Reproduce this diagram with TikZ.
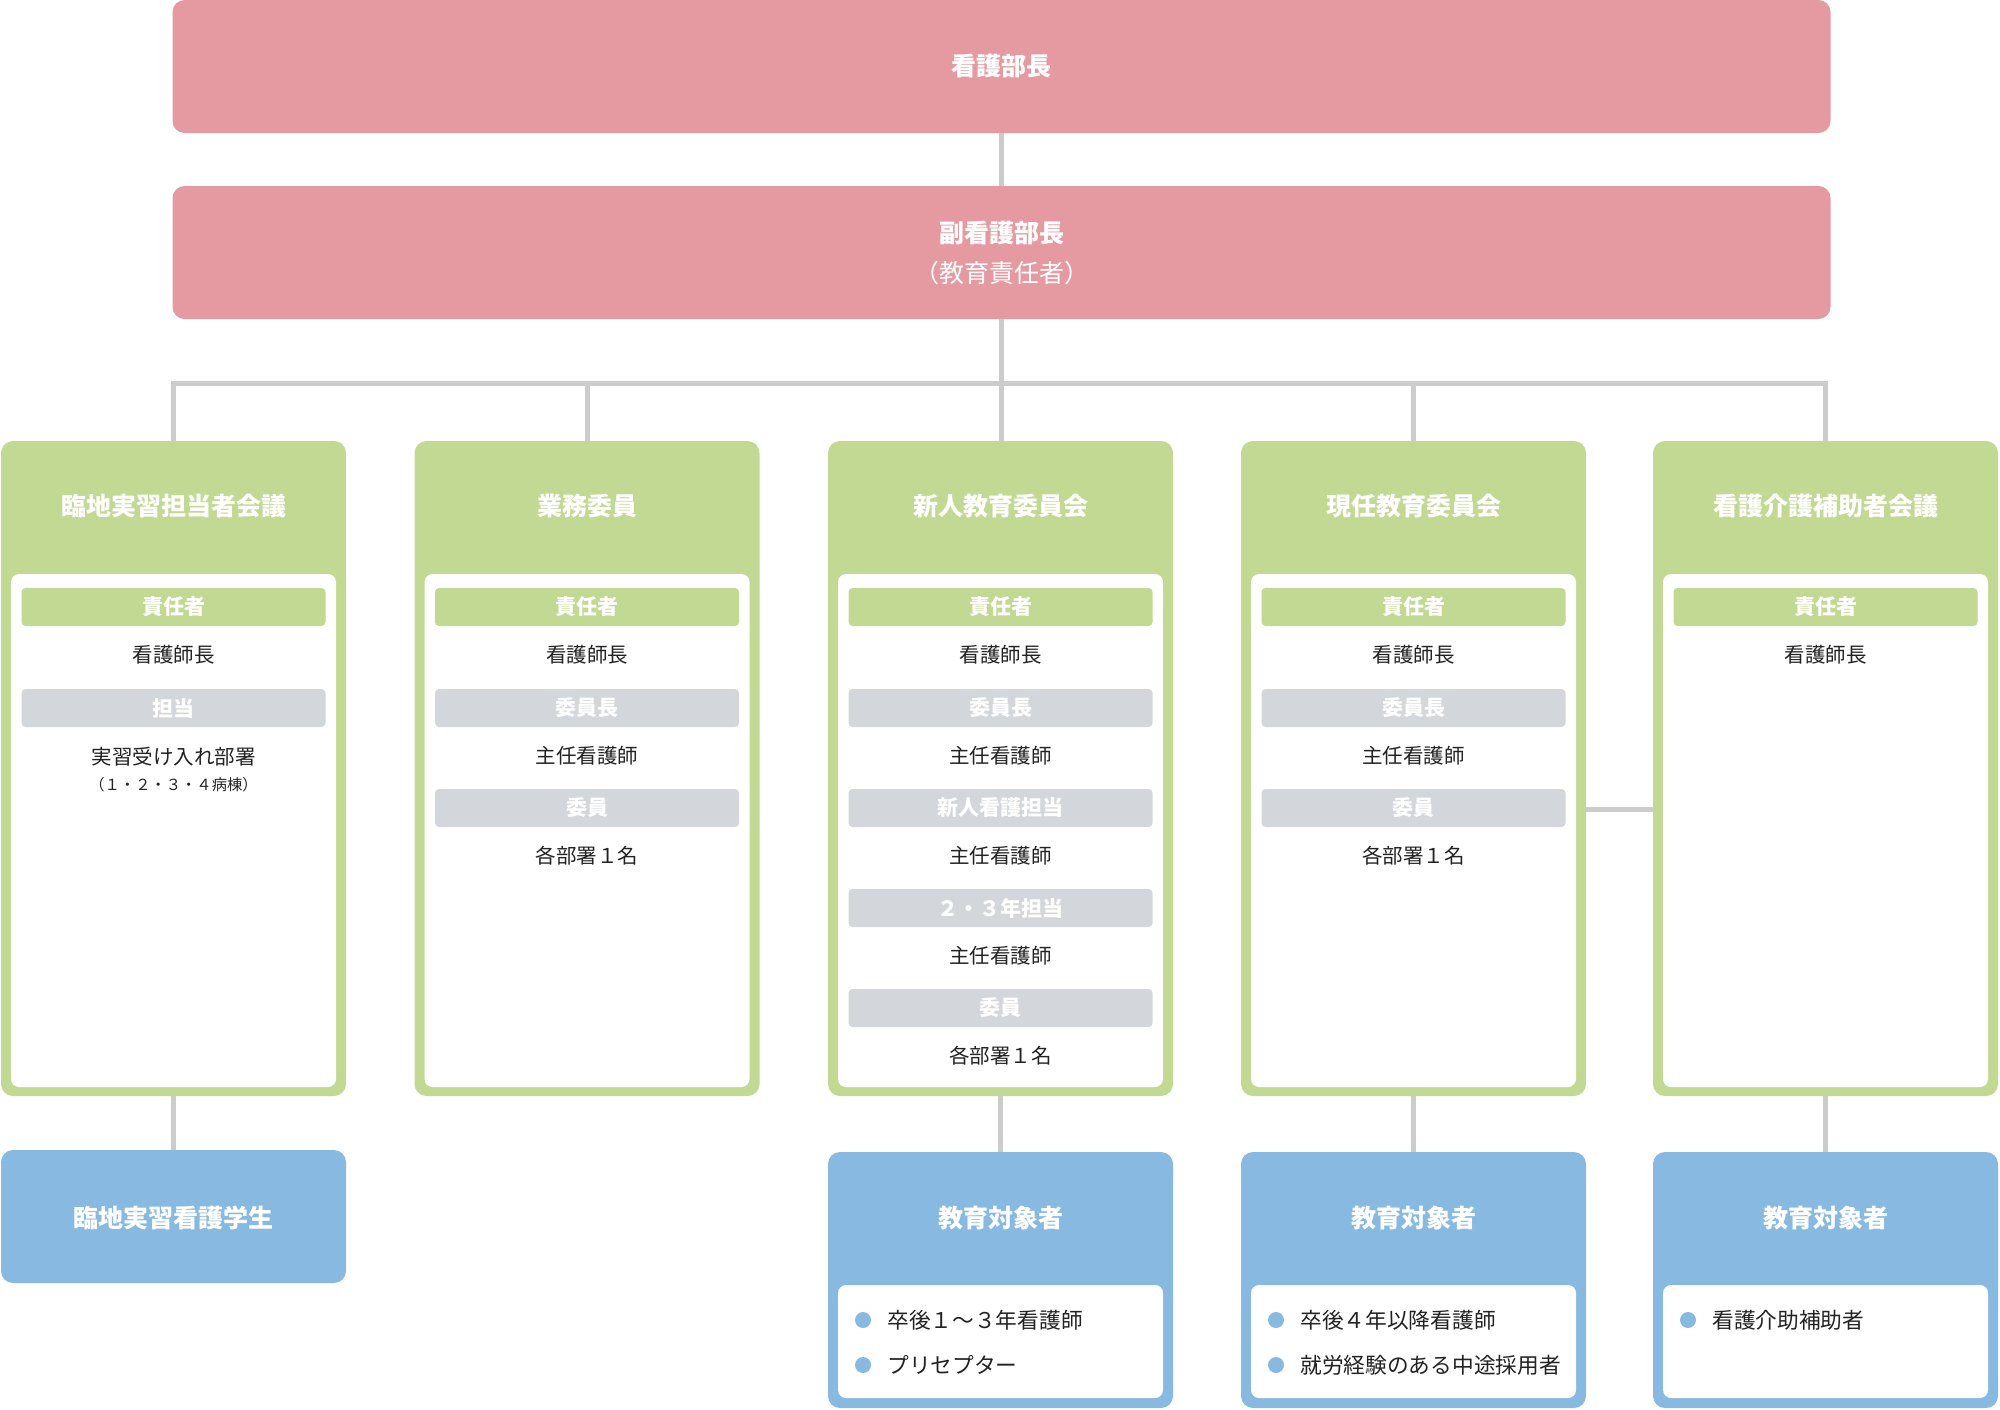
\documentclass[tikz,border=0pt]{standalone}
\usepackage{fontspec}
\setmainfont{Noto Sans CJK JP}
\usepackage{tikz}
\usetikzlibrary{positioning}
\definecolor{rosa}{HTML}{E59AA2}
\definecolor{verde}{HTML}{C1D992}
\definecolor{azul}{HTML}{87B9E1}
\definecolor{gris}{HTML}{D3D7DB}
\definecolor{linea}{HTML}{CCCCCC}
\definecolor{tinta}{HTML}{222222}
\tikzset{
    jefe/.style={rectangle, rounded corners=12pt, fill=rosa, text=white, minimum width=1658pt, minimum height=133pt, align=center, inner sep=0pt},
    comite/.style={rectangle, rounded corners=12pt, fill=verde, minimum width=345pt, minimum height=655pt, inner sep=0pt},
    meta/.style={rectangle, rounded corners=12pt, fill=azul, minimum width=345pt, minimum height=256pt, inner sep=0pt},
    panel/.style={rectangle, rounded corners=8pt, fill=white, minimum width=325pt, minimum height=513pt, inner sep=0pt},
    rol/.style={rectangle, rounded corners=4pt, fill=verde, text=white, font=\fontsize{21}{24}\selectfont\bfseries, minimum width=304pt, minimum height=38pt, inner sep=0pt},
    cargo/.style={rol, fill=gris},
    nombre/.style={text=tinta, font=\fontsize{20.5}{26}\selectfont, align=center, inner sep=0pt},
    lista/.style={nombre, font=\fontsize{21.7}{26}\selectfont},
    titulo/.style={text=white, font=\fontsize{25}{30}\selectfont\bfseries, inner sep=0pt},
    punto/.style={circle, fill=azul, minimum size=16pt, inner sep=0pt},
    conn/.style={-, linea, line width=5pt},
}
\begin{document}
\begin{tikzpicture}[x=1pt, y=-1pt]
    \useasboundingbox (0,0) rectangle (2000,1409);

    \node[jefe, font=\fontsize{25}{30}\selectfont\bfseries] (dir) at (1001.5,66.5) {看護部長};
    \node[jefe, font=\fontsize{25}{40}\selectfont] (vice) at (1001.5,252.5) {\textbf{副看護部長}\\（教育責任者）};
    \coordinate (bus) at (0,383);

    \node[comite] (c1) at (173.5,768.5) {};
    \node[comite] (c2) at (587,768.5) {};
    \node[comite] (c3) at (1000.5,768.5) {};
    \node[comite] (c4) at (1413.5,768.5) {};
    \node[comite] (c5) at (1825.5,768.5) {};

    \node[titulo] (c1t) at (173.5,506) {臨地実習担当者会議};
    \node[titulo] (c2t) at (587,506) {業務委員};
    \node[titulo] (c3t) at (1000.5,506) {新人教育委員会};
    \node[titulo] (c4t) at (1413.5,506) {現任教育委員会};
    \node[titulo] (c5t) at (1825.5,506) {看護介護補助者会議};

    \node[panel] (c1p) at (173.5,830.5) {};
    \node[panel] (c2p) at (587,830.5) {};
    \node[panel] (c3p) at (1000.5,830.5) {};
    \node[panel] (c4p) at (1413.5,830.5) {};
    \node[panel] (c5p) at (1825.5,830.5) {};

    \node[rol] (c1a) at (173.5,607) {責任者};
    \node[nombre] (c1an) at (173.5,655) {看護師長};
    \node[cargo] (c1b) at (173.5,708) {担当};
    \node[nombre] (c1bn) at (173.5,770) {実習受け入れ部署\\{\fontsize{15.3}{26}\selectfont （１・２・３・４病棟）}};

    \node[rol] (c2a) at (587,607) {責任者};
    \node[nombre] (c2an) at (587,655) {看護師長};
    \node[cargo] (c2b) at (587,708) {委員長};
    \node[nombre] (c2bn) at (587,756) {主任看護師};
    \node[cargo] (c2c) at (587,808) {委員};
    \node[nombre] (c2cn) at (587,856) {各部署１名};

    \node[rol] (c3a) at (1000.5,607) {責任者};
    \node[nombre] (c3an) at (1000.5,655) {看護師長};
    \node[cargo] (c3b) at (1000.5,708) {委員長};
    \node[nombre] (c3bn) at (1000.5,756) {主任看護師};
    \node[cargo] (c3c) at (1000.5,808) {新人看護担当};
    \node[nombre] (c3cn) at (1000.5,856) {主任看護師};
    \node[cargo] (c3d) at (1000.5,908) {２・３年担当};
    \node[nombre] (c3dn) at (1000.5,956) {主任看護師};
    \node[cargo] (c3e) at (1000.5,1008) {委員};
    \node[nombre] (c3en) at (1000.5,1056) {各部署１名};

    \node[rol] (c4a) at (1413.5,607) {責任者};
    \node[nombre] (c4an) at (1413.5,655) {看護師長};
    \node[cargo] (c4b) at (1413.5,708) {委員長};
    \node[nombre] (c4bn) at (1413.5,756) {主任看護師};
    \node[cargo] (c4c) at (1413.5,808) {委員};
    \node[nombre] (c4cn) at (1413.5,856) {各部署１名};

    \node[rol] (c5a) at (1825.5,607) {責任者};
    \node[nombre] (c5an) at (1825.5,655) {看護師長};

    \node[meta, minimum height=133pt] (m1) at (173.5,1216.5) {};
    \node[titulo] (m1t) at (173.5,1218) {臨地実習看護学生};

    \node[meta] (m3) at (1000.5,1280) {};
    \node[meta] (m4) at (1413.5,1280) {};
    \node[meta] (m5) at (1825.5,1280) {};
    \node[titulo] (m3t) at (1000.5,1218) {教育対象者};
    \node[titulo] (m4t) at (1413.5,1218) {教育対象者};
    \node[titulo] (m5t) at (1825.5,1218) {教育対象者};
    \node[panel, minimum height=113pt] (m3p) at (1000.5,1341.5) {};
    \node[panel, minimum height=113pt] (m4p) at (1413.5,1341.5) {};
    \node[panel, minimum height=113pt] (m5p) at (1825.5,1341.5) {};

    \node[punto] (m3a) at (863,1320) {};
    \node[lista, anchor=west, right=16pt of m3a] (m3at) {卒後１〜３年看護師};
    \node[punto] (m3b) at (863,1365) {};
    \node[lista, anchor=west, right=16pt of m3b] (m3bt) {プリセプター};
    \node[punto] (m4a) at (1276,1320) {};
    \node[lista, anchor=west, right=16pt of m4a] (m4at) {卒後４年以降看護師};
    \node[punto] (m4b) at (1276,1365) {};
    \node[lista, anchor=west, right=16pt of m4b] (m4bt) {就労経験のある中途採用者};
    \node[punto] (m5a) at (1688,1320) {};
    \node[lista, anchor=west, right=16pt of m5a] (m5at) {看護介助補助者};

    \draw[conn] (dir.south) -- (vice.north);
    \draw[conn] (vice.south) -- (vice.south |- bus) -| (c1.north);
    \draw[conn] (vice.south) -- (vice.south |- bus) -| (c2.north);
    \draw[conn] (vice.south) -- (vice.south |- bus) -| ([xshift=1pt]c3.north);
    \draw[conn] (vice.south) -- (vice.south |- bus) -| (c4.north);
    \draw[conn] (vice.south) -- (vice.south |- bus) -| (c5.north);

    \draw[conn] (c1.south) -- (m1.north);
    \draw[conn] (c3.south) -- (m3.north);
    \draw[conn] (c4.south) -- (m4.north);
    \draw[conn] (c5.south) -- (m5.north);
    \draw[conn] ([yshift=-40.5pt]c4.east) -- ([yshift=-40.5pt]c5.west);
\end{tikzpicture}
\end{document}
